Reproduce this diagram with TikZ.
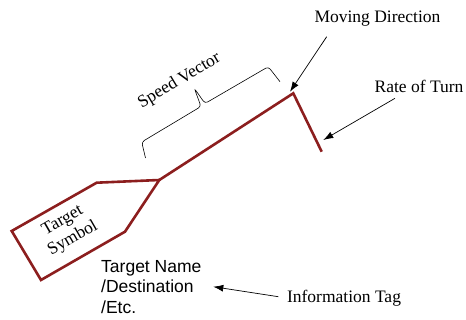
\documentclass[tikz,border=0pt]{standalone}
\usepackage{fontspec}
\setmainfont{Liberation Serif}
\setsansfont{Liberation Sans}
\usetikzlibrary{arrows.meta}
\definecolor{track}{RGB}{140,30,30}

\begin{document}
\begin{tikzpicture}[
                    x=1pt, y=-1pt,
                    >={Latex[length=10pt,width=7pt]},
                    txt/.style={font=\fontsize{17.5}{20.5}\selectfont, inner sep=0pt},
                    outline/.style={draw=track, line width=2.6pt, line join=miter},
                    pointer/.style={->, line width=0.7pt},
                    bracket/.style={line width=0.6pt, rounded corners=3pt},
                ]
                \useasboundingbox (0,0) rectangle (466,320);

                % target symbol with speed vector and rate of turn
                \coordinate (L) at (11.7,231);
                \coordinate (B) at (41,280);
                \coordinate (R) at (125,231.7);
                \coordinate (T) at (159.3,180);
                \coordinate (U) at (96.7,182.7);
                \coordinate (H) at (293.3,93.3);
                \coordinate (E) at (321.7,151.7);
                \draw[outline] (T) -- (U) -- (L) -- (B) -- (R) -- cycle;
                \draw[outline] (T) -- (H) -- (E);

                % brace over the speed vector
                \coordinate (S0) at (145.5,158);
                \coordinate (S1) at (280,81.7);
                \draw[bracket] (S0) -- (141.7,142) -- (201,106.5) -- (194.3,88.3)
                               -- (205,103.5) -- (268.3,66.7) -- (S1);

                \node[txt, rotate=31] (speed) at (179.5,81) {Speed Vector};
                \node[txt, rotate=30, align=center] (sym) at (68,230) {Target\\Symbol};
                \node[txt] (move) at (377.5,19) {Moving Direction};
                \node[txt] (turn) at (419,86.5) {Rate of Turn};
                \node[txt] (info) at (344,298) {Information Tag};
                \node[txt, font=\sffamily\fontsize{17.5}{20.5}\selectfont, align=left, anchor=north west] (tag) at (101,260) {Target Name\\/Destination\\/Etc.};

                % pointers
                \coordinate (M0) at (326.7,36.7);
                \coordinate (M1) at (290,91.7);
                \coordinate (R0) at (395,98.3);
                \coordinate (R1) at (323.3,140);
                \coordinate (I0) at (278.3,296.7);
                \coordinate (I1) at (213.3,286.7);
                \draw[pointer] (M0) -- (M1);
                \draw[pointer] (R0) -- (R1);
                \draw[pointer] (I0) -- (I1);
            \end{tikzpicture}
\end{document}
